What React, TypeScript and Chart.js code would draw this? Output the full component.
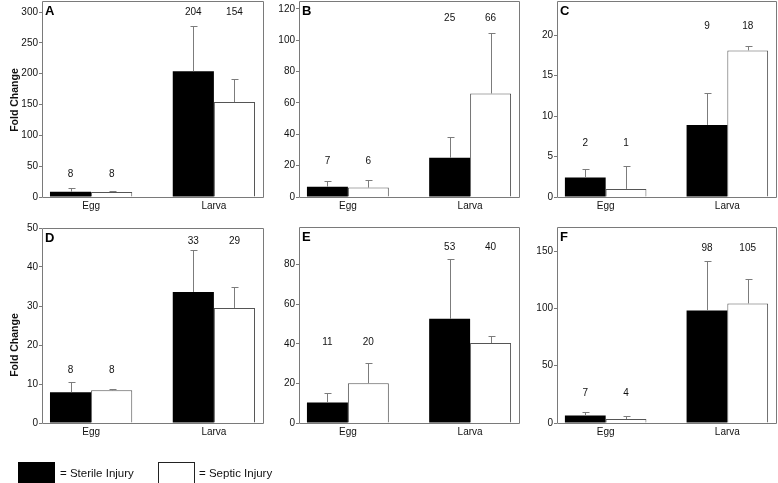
import React, { useEffect, useRef } from 'react';
import { Chart, registerables } from 'chart.js';

Chart.register(...registerables);

const FONT = "'Liberation Sans', Arial, Helvetica, sans-serif";

// ---------- data ----------
const categories = ['Egg', 'Larva'];
const seriesNames = ['Sterile Injury', 'Septic Injury'];
const panelLetters = ['A', 'B', 'C', 'D', 'E', 'F'];

// Panel A
const sterileA = [8.5, 204];
const septicA = [8, 154];
const sterileErrA = [6, 74];
const septicErrA = [1, 38];
const sterileLabelA = ['8', '204'];
const septicLabelA = ['8', '154'];
const labelLevelA = [36.5, 300];
const yMaxA = 318;
const yStepA = 50;

// Panel B
const sterileB = [6.6, 25];
const septicB = [6, 66];
const sterileErrB = [3.8, 13.5];
const septicErrB = [4.6, 38.5];
const sterileLabelB = ['7', '25'];
const septicLabelB = ['6', '66'];
const labelLevelB = [22.5, 114];
const yMaxB = 125;
const yStepB = 20;

// Panel C
const sterileC = [2.4, 8.9];
const septicC = [1.0, 18.1];
const sterileErrC = [1.1, 3.9];
const septicErrC = [2.8, 0.5];
const sterileLabelC = ['2', '9'];
const septicLabelC = ['1', '18'];
const labelLevelC = [6.6, 21.1];
const yMaxC = 24.2;
const yStepC = 5;

// Panel D
const sterileD = [7.9, 33.6];
const septicD = [8.4, 29.5];
const sterileErrD = [2.5, 10.7];
const septicErrD = [0.2, 5.3];
const sterileLabelD = ['8', '33'];
const septicLabelD = ['8', '29'];
const labelLevelD = [13.5, 46.7];
const yMaxD = 50;
const yStepD = 10;

// Panel E
const sterileE = [10.4, 52.6];
const septicE = [20.1, 40.4];
const sterileErrE = [4.7, 30.2];
const septicErrE = [10.2, 3.6];
const sterileLabelE = ['11', '53'];
const septicLabelE = ['20', '40'];
const labelLevelE = [40.9, 88.7];
const yMaxE = 99;
const yStepE = 20;

// Panel F
const sterileF = [6.6, 98.2];
const septicF = [3.5, 104.3];
const sterileErrF = [2.6, 42.8];
const septicErrF = [2.3, 21.2];
const sterileLabelF = ['7', '98'];
const septicLabelF = ['4', '105'];
const labelLevelF = [26.1, 152.8];
const yMaxF = 171;
const yStepF = 50;

// ---------- layout (pixels) ----------
type Layout = { canvasLeft: number; canvasTop: number; axisW: number; padTop: number; padRight: number; boxW: number; boxH: number };
const X_AXIS_H = 22;
const layouts: Layout[] = [
  { canvasLeft: 0, canvasTop: 0, axisW: 42, padTop: 1, padRight: 4, boxW: 221, boxH: 196 },
  { canvasLeft: 259, canvasTop: 0, axisW: 40, padTop: 1, padRight: 4, boxW: 220, boxH: 196 },
  { canvasLeft: 517, canvasTop: 0, axisW: 40, padTop: 1, padRight: 2, boxW: 219, boxH: 196 },
  { canvasLeft: 0, canvasTop: 218, axisW: 42, padTop: 10, padRight: 4, boxW: 221, boxH: 195 },
  { canvasLeft: 259, canvasTop: 218, axisW: 40, padTop: 9, padRight: 4, boxW: 220, boxH: 196 },
  { canvasLeft: 517, canvasTop: 218, axisW: 40, padTop: 9, padRight: 2, boxW: 219, boxH: 196 },
];

type Panel = {
  letter: string;
  sterile: number[]; septic: number[];
  sterileErr: number[]; septicErr: number[];
  sterileLabel: string[]; septicLabel: string[];
  labelLevel: number[];
  yMax: number; yStep: number;
};

const panels: Panel[] = [
  { letter: panelLetters[0], sterile: sterileA, septic: septicA, sterileErr: sterileErrA, septicErr: septicErrA, sterileLabel: sterileLabelA, septicLabel: septicLabelA, labelLevel: labelLevelA, yMax: yMaxA, yStep: yStepA },
  { letter: panelLetters[1], sterile: sterileB, septic: septicB, sterileErr: sterileErrB, septicErr: septicErrB, sterileLabel: sterileLabelB, septicLabel: septicLabelB, labelLevel: labelLevelB, yMax: yMaxB, yStep: yStepB },
  { letter: panelLetters[2], sterile: sterileC, septic: septicC, sterileErr: sterileErrC, septicErr: septicErrC, sterileLabel: sterileLabelC, septicLabel: septicLabelC, labelLevel: labelLevelC, yMax: yMaxC, yStep: yStepC },
  { letter: panelLetters[3], sterile: sterileD, septic: septicD, sterileErr: sterileErrD, septicErr: septicErrD, sterileLabel: sterileLabelD, septicLabel: septicLabelD, labelLevel: labelLevelD, yMax: yMaxD, yStep: yStepD },
  { letter: panelLetters[4], sterile: sterileE, septic: septicE, sterileErr: sterileErrE, septicErr: septicErrE, sterileLabel: sterileLabelE, septicLabel: septicLabelE, labelLevel: labelLevelE, yMax: yMaxE, yStep: yStepE },
  { letter: panelLetters[5], sterile: sterileF, septic: septicF, sterileErr: sterileErrF, septicErr: septicErrF, sterileLabel: sterileLabelF, septicLabel: septicLabelF, labelLevel: labelLevelF, yMax: yMaxF, yStep: yStepF },
];

function decorPlugin(p: Panel) {
  return {
    id: 'decor',
    afterDatasetsDraw(chart: any) {
      const ctx = chart.ctx;
      const ca = chart.chartArea;
      const ys = chart.scales.y;
      ctx.save();
      // error bars
      ctx.strokeStyle = '#7c7c7c';
      ctx.lineWidth = 1;
      const vals = [p.sterile, p.septic];
      const errs = [p.sterileErr, p.septicErr];
      for (let di = 0; di < 2; di++) {
        const meta = chart.getDatasetMeta(di);
        meta.data.forEach((bar: any, j: number) => {
          const x = Math.round(bar.x) + 0.5;
          const y0 = ys.getPixelForValue(vals[di][j]);
          const y1 = Math.round(ys.getPixelForValue(vals[di][j] + errs[di][j])) + 0.5;
          ctx.beginPath();
          ctx.moveTo(x, y0);
          ctx.lineTo(x, y1);
          ctx.moveTo(x - 3, y1);
          ctx.lineTo(x + 4, y1);
          ctx.stroke();
        });
      }
      // box
      ctx.strokeStyle = '#7a7a7a';
      const l = Math.round(ca.left) + 0.5;
      const t = Math.round(ca.top) + 0.5;
      const r = Math.round(ca.right) + 0.5;
      const b = Math.round(ca.bottom) + 0.5;
      ctx.beginPath();
      ctx.rect(l, t, r - l, b - t);
      ctx.stroke();
      // count labels
      ctx.fillStyle = '#111';
      ctx.font = `10px ${FONT}`;
      ctx.textAlign = 'center';
      ctx.textBaseline = 'middle';
      const labs = [p.sterileLabel, p.septicLabel];
      for (let di = 0; di < 2; di++) {
        const meta = chart.getDatasetMeta(di);
        meta.data.forEach((bar: any, j: number) => {
          ctx.fillText(labs[di][j], bar.x, ys.getPixelForValue(p.labelLevel[j]));
        });
      }
      // panel letter
      ctx.font = `bold 13px ${FONT}`;
      ctx.textAlign = 'left';
      ctx.textBaseline = 'alphabetic';
      ctx.fillStyle = '#000';
      ctx.fillText(p.letter, ca.left + 3, ca.top + 13.5);
      ctx.restore();
    },
  };
}

function PanelChart({ panel, layout }: { panel: Panel; layout: Layout }) {
  const ref = useRef<HTMLCanvasElement | null>(null);
  const width = layout.axisW + layout.boxW + layout.padRight;
  const height = layout.padTop + layout.boxH + X_AXIS_H;
  useEffect(() => {
    if (!ref.current) return;
    const chart = new Chart(ref.current, {
      type: 'bar',
      data: {
        datasets: [
          {
            label: seriesNames[0],
            data: categories.map((_, i) => ({ x: i, y: panel.sterile[i] })),
            backgroundColor: '#000',
            borderWidth: 0,
          },
          {
            label: seriesNames[1],
            data: categories.map((_, i) => ({ x: i, y: panel.septic[i] })),
            backgroundColor: '#fff',
            borderColor: '#555',
            borderWidth: 1,
          },
        ],
      },
      options: {
        responsive: false,
        animation: false,
        events: [],
        devicePixelRatio: 1,
        layout: { padding: { left: 0, top: layout.padTop, right: layout.padRight, bottom: 0 } },
        datasets: { bar: { categoryPercentage: 0.67, barPercentage: 1 } },
        plugins: { legend: { display: false }, tooltip: { enabled: false }, title: { display: false } },
        scales: {
          x: {
            type: 'linear',
            min: -0.4,
            max: 1.4,
            offset: false,
            grid: { display: false, drawTicks: false },
            border: { display: false },
            afterBuildTicks: (s: any) => {
              s.ticks = categories.map((_, i) => ({ value: i }));
            },
            afterFit: (s: any) => {
              s.height = X_AXIS_H;
              s.paddingLeft = 0;
              s.paddingRight = 0;
            },
            ticks: {
              autoSkip: false,
              maxRotation: 0,
              padding: 3,
              color: '#111',
              font: { family: FONT, size: 10 },
              callback: (v: any) => categories[v] ?? '',
            },
          },
          y: {
            type: 'linear',
            min: 0,
            max: panel.yMax,
            grid: { display: true, drawOnChartArea: false, drawTicks: true, tickLength: 3, color: '#7a7a7a' },
            border: { display: false },
            afterFit: (s: any) => {
              s.width = layout.axisW;
              s.paddingTop = 0;
              s.paddingBottom = 0;
            },
            ticks: {
              stepSize: panel.yStep,
              includeBounds: false,
              padding: 1,
              color: '#111',
              font: { family: FONT, size: 10 },
            },
          },
        },
      } as any,
      plugins: [decorPlugin(panel)],
    });
    return () => chart.destroy();
  }, [panel, layout]);
  return (
    <canvas
      ref={ref}
      width={width}
      height={height}
      style={{ position: 'absolute', left: layout.canvasLeft, top: layout.canvasTop, width, height }}
    />
  );
}

export default function App() {
  const yTitle = 'Fold Change';
  const titleStyle = (cy: number): React.CSSProperties => ({
    position: 'absolute',
    left: 13.5 - 50,
    top: cy - 6,
    width: 100,
    height: 12,
    lineHeight: '12px',
    textAlign: 'center',
    fontFamily: FONT,
    fontWeight: 'bold',
    fontSize: 10.5,
    color: '#111',
    transform: 'rotate(-90deg)',
    whiteSpace: 'nowrap',
  });
  const legendText: React.CSSProperties = {
    position: 'absolute',
    top: 465,
    height: 16,
    lineHeight: '16px',
    fontFamily: FONT,
    fontSize: 11.5,
    color: '#111',
    whiteSpace: 'nowrap',
  };
  return (
    <div style={{ position: 'absolute', left: 0, top: 0, width: 778, height: 483, background: '#fff', overflow: 'hidden' }}>
      {panels.map((p, i) => (
        <PanelChart key={p.letter} panel={p} layout={layouts[i]} />
      ))}
      <div style={titleStyle(100)}>{yTitle}</div>
      <div style={titleStyle(345)}>{yTitle}</div>
      <div style={{ position: 'absolute', left: 18, top: 462, width: 37, height: 21, background: '#000' }} />
      <div style={{ ...legendText, left: 60 }}>= {seriesNames[0]}</div>
      <div style={{ position: 'absolute', left: 158, top: 462, width: 35, height: 20, background: '#fff', border: '1px solid #222' }} />
      <div style={{ ...legendText, left: 199 }}>= {seriesNames[1]}</div>
    </div>
  );
}
